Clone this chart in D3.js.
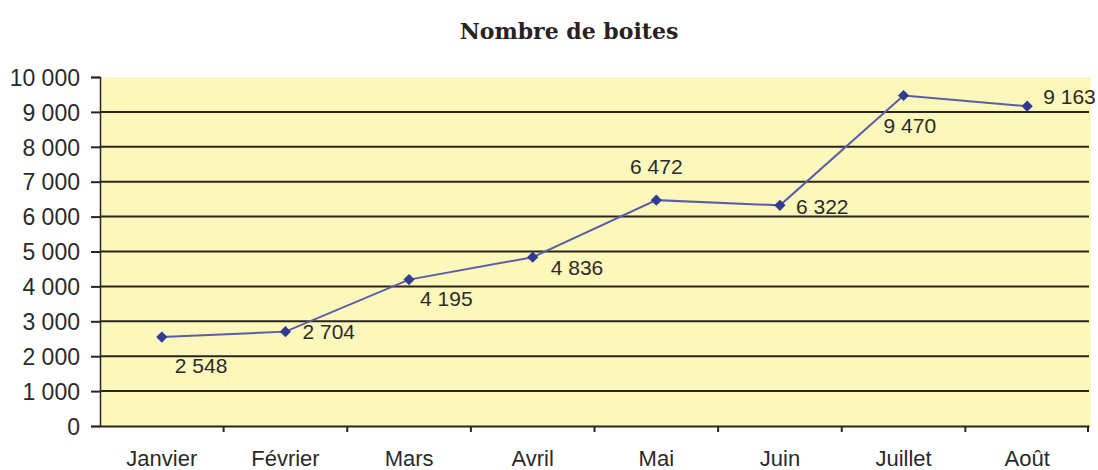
<!DOCTYPE html>
<html>
<head>
<meta charset="utf-8">
<script src="https://cdn.jsdelivr.net/npm/d3@7"></script>
<style>
  body { margin: 0; background: #fff; }
  .tick-label { font-family: Arial, "Liberation Sans", sans-serif; font-size: 22px; fill: #2a2a2a; }
  .value-label { font-family: Arial, "Liberation Sans", sans-serif; font-size: 21px; fill: #2a2a2a; }
</style>
</head>
<body>
<div id="chart"></div>
<script>
// data
const months = ["Janvier", "Février", "Mars", "Avril", "Mai", "Juin", "Juillet", "Août"];
const boxes = [2548, 2704, 4195, 4836, 6472, 6322, 9470, 9163];
const yTicks = [0, 1000, 2000, 3000, 4000, 5000, 6000, 7000, 8000, 9000, 10000];

// where each value label sits relative to its point [dx, dy, anchor]
const labelOffsets = [
  [13, 29, "start"], [17, 0, "start"], [11, 19, "start"], [18, 10, "start"],
  [0, -33, "middle"], [16, 1, "start"], [-20, 30, "start"], [16, -10, "start"]
];

const width = 1098, height = 470;
const margin = { top: 77, right: 9, bottom: 44, left: 100 };

const svg = d3.select("#chart").append("svg")
  .attr("width", width)
  .attr("height", height);

const x = d3.scaleBand()
  .domain(months)
  .range([margin.left, width - margin.right])
  .padding(0);

const y = d3.scaleLinear()
  .domain([0, 10000])
  .range([height - margin.bottom, margin.top]);

const fmt = v => d3.format(",")(v).replace(/,/g, " ");

// title
svg.append("text")
  .attr("x", 569)
  .attr("y", 39)
  .attr("text-anchor", "middle")
  .attr("font-family", "'DejaVu Serif', serif")
  .attr("font-weight", "bold")
  .attr("font-size", "22px")
  .attr("fill", "#2a2222")
  .text("Nombre de boites");

// plot background
svg.append("rect")
  .attr("x", margin.left)
  .attr("y", margin.top)
  .attr("width", width - margin.right - margin.left + 2)
  .attr("height", y(0) - margin.top)
  .attr("fill", "#fcf7bb");

// gridlines (no line at the top value)
svg.append("g")
  .selectAll("line")
  .data(yTicks.filter(t => t > 0 && t < 10000))
  .enter().append("line")
  .attr("x1", margin.left)
  .attr("x2", width - margin.right)
  .attr("y1", d => y(d))
  .attr("y2", d => y(d))
  .attr("stroke", "#2b2520")
  .attr("stroke-width", 2);

// y axis
const yAxis = svg.append("g")
  .attr("transform", `translate(${margin.left},0)`)
  .call(d3.axisLeft(y).tickValues(yTicks).tickSize(9).tickPadding(11).tickFormat(fmt));
yAxis.select(".domain").attr("stroke", "#2b2520").attr("stroke-width", 1.5);
yAxis.selectAll(".tick line").attr("stroke", "#2b2520").attr("stroke-width", 2);
yAxis.selectAll(".tick text")
  .style("font-family", "Arial, 'Liberation Sans', sans-serif")
  .style("font-size", "23px")
  .style("fill", "#2a2a2a")
  .attr("dy", "0.36em");

// x axis
const xAxis = svg.append("g")
  .attr("transform", `translate(0,${y(0)})`)
  .call(d3.axisBottom(x).tickSize(0).tickPadding(0));
xAxis.select(".domain").attr("stroke", "#2b2520").attr("stroke-width", 2);
xAxis.selectAll(".tick text").attr("class", "tick-label").attr("dy", null).attr("y", 40);

// category boundary ticks
svg.append("g")
  .selectAll("line")
  .data(months.slice(1).concat(["end"]))
  .enter().append("line")
  .attr("x1", d => d === "end" ? width - margin.right - 1 : x(d))
  .attr("x2", d => d === "end" ? width - margin.right - 1 : x(d))
  .attr("y1", y(0))
  .attr("y2", y(0) + 6)
  .attr("stroke", "#2b2520")
  .attr("stroke-width", 2);

// line
const cx = d => x(d) + x.bandwidth() / 2;
const line = d3.line()
  .x((d, i) => cx(months[i]))
  .y(d => y(d));

svg.append("path")
  .datum(boxes)
  .attr("d", line)
  .attr("fill", "none")
  .attr("stroke", "#5b5ea6")
  .attr("stroke-width", 2);

// diamond markers
svg.append("g")
  .selectAll("path")
  .data(boxes)
  .enter().append("path")
  .attr("d", d3.symbol().type(d3.symbolDiamond2).size(80))
  .attr("transform", (d, i) => `translate(${cx(months[i])},${y(d)})`)
  .attr("fill", "#313b94");

// value labels
svg.append("g")
  .selectAll("text")
  .data(boxes)
  .enter().append("text")
  .attr("class", "value-label")
  .attr("x", (d, i) => cx(months[i]) + labelOffsets[i][0])
  .attr("y", (d, i) => y(d) + labelOffsets[i][1])
  .attr("dy", "0.35em")
  .attr("text-anchor", (d, i) => labelOffsets[i][2])
  .text(fmt);
</script>
</body>
</html>
